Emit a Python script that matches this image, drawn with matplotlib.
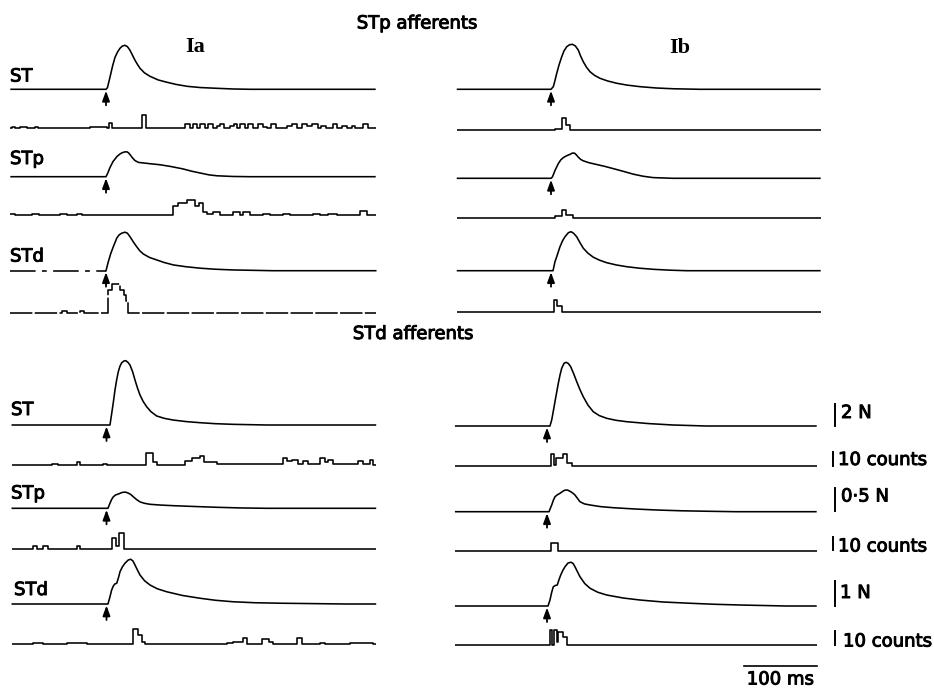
import matplotlib
matplotlib.use("Agg")
import matplotlib.pyplot as plt
import matplotlib.patheffects as pe

# ---------------- data ----------------
# twitch force traces: (time after stimulus in ms, force in N)
stp_ia_st_force = [(0, 0), (2, 0.15), (5.5, 1.1), (9, 2.1), (12.4, 2.9), (16, 3.4), (19.3, 3.73),
                   (22.5, 3.93), (26.2, 4.0), (29.5, 3.88), (33.1, 3.55), (36.5, 3.1), (40, 2.64),
                   (43.5, 2.25), (46.9, 1.91), (53, 1.5), (60.7, 1.18), (72, 0.85), (84, 0.64),
                   (97, 0.44), (112, 0.27), (130, 0.16), (153, 0.09), (175, 0.03), (199, 0)]
stp_ia_stp_force = [(0, 0), (2.5, 0.08), (5.5, 0.2), (9.7, 0.33), (15.2, 0.44), (19, 0.49), (22.1, 0.52),
                    (26, 0.54), (29, 0.54), (31, 0.52), (33.1, 0.48), (36.5, 0.41), (40, 0.35), (45, 0.31),
                    (51, 0.3), (62, 0.28), (74.5, 0.26), (90, 0.22), (106, 0.17), (118, 0.12), (130, 0.08),
                    (142, 0.04), (153, 0.02), (175, 0.005), (199, 0)]
stp_ia_std_force = [(0, 0), (3.2, 0.36), (6.5, 0.68), (10.1, 0.96), (14.8, 1.3), (18, 1.43), (21.7, 1.5),
                    (26.2, 1.54), (29.5, 1.5), (33.1, 1.36), (37.5, 1.16), (42.3, 0.96), (46.5, 0.8),
                    (51.4, 0.67), (60, 0.53), (70, 0.43), (80, 0.33), (93, 0.23), (110, 0.16), (130, 0.1),
                    (150, 0.06), (175, 0.03), (230, 0)]
stp_ib_st_force = [(0, 0), (3.2, 0.24), (5.5, 0.8), (7.9, 1.45), (11, 2.2), (14.8, 2.96), (18, 3.5),
                   (21.7, 3.87), (25.5, 4.05), (29.4, 4.09), (33.5, 3.95), (37.6, 3.57), (41, 3.0),
                   (44.5, 2.51), (49, 2.0), (53.8, 1.6), (60, 1.27), (67.6, 1.0), (78, 0.76), (90.6, 0.55),
                   (105, 0.38), (122.7, 0.24), (145, 0.12), (168, 0.05), (205, 0)]
stp_ib_stp_force = [(0, 0), (2, 0.03), (5.5, 0.17), (10.1, 0.32), (13.5, 0.4), (17, 0.45), (21.5, 0.49),
                    (26.2, 0.52), (29, 0.545), (31, 0.55), (33.1, 0.54), (35.5, 0.5), (37.6, 0.46),
                    (41, 0.41), (44.5, 0.38), (52, 0.34), (63, 0.3), (74, 0.26), (86, 0.21), (100, 0.15),
                    (113.5, 0.09), (127, 0.045), (141, 0.015), (168, 0)]
stp_ib_std_force = [(2.8, 0), (5.5, 0.36), (7.9, 0.56), (12.4, 0.96), (16, 1.2), (19.3, 1.36), (24, 1.52),
                    (27.6, 1.56), (31, 1.5), (35.4, 1.36), (40, 1.12), (44.5, 0.9), (51, 0.7), (58.3, 0.54),
                    (67, 0.42), (76.8, 0.32), (90, 0.23), (104.4, 0.16), (122, 0.1), (141, 0.056),
                    (165, 0.02), (187, 0)]
std_ia_st_force = [(4.8, 0), (7.2, 1.06), (9.5, 2.1), (11.7, 3.18), (14, 4.1), (16.3, 4.85), (18.6, 5.35),
                   (21, 5.66), (24, 5.82), (26.5, 5.85), (29.5, 5.7), (32.4, 5.45), (36, 4.85), (39.3, 4.09),
                   (42.8, 3.35), (46.2, 2.73), (50.5, 2.15), (55.4, 1.66), (61.5, 1.2), (69.2, 0.82),
                   (80, 0.6), (92.1, 0.45), (110, 0.31), (129, 0.21), (150, 0.12), (175, 0.06), (221, 0)]
std_ia_stp_force = [(2, 0), (4.8, 0.11), (7, 0.19), (9.4, 0.25), (12.5, 0.29), (16.3, 0.31), (20, 0.335),
                    (23.2, 0.35), (26.5, 0.35), (30.1, 0.33), (33.5, 0.3), (37, 0.25), (41.5, 0.19),
                    (46.2, 0.14), (52, 0.11), (60, 0.087), (75, 0.07), (92.1, 0.057), (120, 0.04),
                    (152, 0.022), (185, 0.008), (221, 0)]
std_ia_std_force = [(2, 0), (4.8, 0.29), (7, 0.55), (9.4, 0.72), (11.5, 0.8), (14.1, 0.83), (16.5, 1.05),
                    (18.6, 1.29), (22, 1.49), (25.5, 1.63), (30, 1.76), (33.4, 1.79), (36.5, 1.72),
                    (39.3, 1.56), (42.8, 1.35), (46.2, 1.16), (52.5, 0.93), (60, 0.76), (70, 0.61),
                    (83, 0.49), (105, 0.34), (129, 0.23), (150, 0.15), (174.4, 0.09), (205, 0.05),
                    (243, 0.03), (330, 0)]
std_ib_st_force = [(4.1, 0), (6.5, 0.55), (8.7, 1.35), (11, 2.21), (13.3, 3.05), (15.6, 3.88), (18, 4.65),
                   (20.3, 5.25), (23.5, 5.7), (26.2, 5.79), (29.5, 5.68), (32.7, 5.39), (36.8, 4.75),
                   (41, 4.03), (45.5, 3.3), (50, 2.66), (56.5, 1.9), (63.8, 1.3), (72, 0.95), (82.3, 0.7),
                   (95, 0.52), (110, 0.39), (140, 0.22), (174, 0.09), (220, 0)]
std_ib_stp_force = [(2.8, 0), (4.5, 0.07), (6.5, 0.146), (8.8, 0.25), (11, 0.326), (14.5, 0.37),
                    (17.9, 0.4), (21.5, 0.44), (24.8, 0.47), (28.5, 0.47), (32.7, 0.435), (35.5, 0.405),
                    (38.6, 0.363), (42, 0.29), (45.5, 0.217), (51.5, 0.17), (59.3, 0.146), (74, 0.11),
                    (91.4, 0.087), (120, 0.06), (151, 0.037), (185, 0.02), (220, 0.01), (260, 0)]
std_ib_std_force = [(1.4, 0), (4.1, 0.24), (6.5, 0.55), (8.7, 0.77), (11.5, 0.82), (14.2, 0.84),
                    (16.5, 1.05), (18.9, 1.24), (21.8, 1.42), (24.8, 1.57), (29, 1.72), (33.1, 1.75),
                    (36, 1.7), (38.6, 1.57), (42, 1.37), (45.5, 1.17), (52, 0.9), (59.3, 0.71), (70, 0.55),
                    (82.3, 0.44), (105, 0.32), (128, 0.24), (160, 0.16), (197, 0.11), (230, 0.07),
                    (266, 0.04), (330, 0)]

# afferent discharge histograms: (bin start ms, bin end ms, counts)
stp_ia_st_counts = [(-130, -126, 1), (-119, -109, 1), (-98, -94, 1), (-22, 1.4, 1), (3.7, 8.7, 4),
                    (49.2, 54.7, 10), (109, 116, 3), (120, 125, 3), (130, 136, 3), (141, 148, 3),
                    (153, 157, 2), (157, 163, 3), (171, 176, 2), (176, 181, 3), (185, 192, 3),
                    (196, 203, 3), (210, 217, 3), (217, 222, 1), (228, 235, 3), (249, 256, 2),
                    (256, 263, 3), (270, 277, 3), (277, 284, 2), (284, 293, 3), (297, 304, 2),
                    (313, 319, 3), (325, 332, 2), (339, 343, 2), (355, 362, 3)]
stp_ia_stp_counts = [(-132, -125, 1), (-102, -93, 1), (-63, -54, 1), (-40, -33, 1), (92.8, 99.7, 7),
                     (99.7, 111.2, 9), (111.2, 122.7, 11), (122.7, 128.7, 7), (128.7, 134.2, 9),
                     (134.2, 140, 2), (140, 148, 1), (148, 157, 2), (175.6, 184.8, 2), (189.4, 198.6, 2),
                     (217, 226, 1), (244.5, 253.7, 1), (286, 295, 1), (306.6, 318, 1), (350.3, 359.5, 3)]
stp_ia_std_counts = [(-61, -54, 1), (-36, -31, 1), (3.2, 7.8, 17), (7.8, 19.3, 21), (19.3, 24.8, 17),
                     (24.8, 27.6, 13), (27.6, 30.8, 9)]
stp_ib_st_counts = [(5.5, 14.7, 1), (14.7, 20.7, 9), (20.7, 26.2, 4)]
stp_ib_stp_counts = [(5.5, 14.7, 1), (14.7, 20.7, 6), (20.7, 29.9, 2)]
stp_ib_std_counts = [(4.1, 8.7, 9), (8.7, 14.7, 4)]
std_ia_st_counts = [(-75.6, -66.5, 1), (-41.2, -36.6, 2), (-4.4, 0.2, 1), (54, 64.6, 9), (64.6, 69.2, 2),
                    (108.2, 117.4, 3), (117.4, 128.9, 5), (128.9, 134.4, 7), (134.4, 151.9, 2),
                    (151.9, 243.8, 1), (243.8, 249.4, 5), (249.4, 255.3, 3), (255.3, 264.5, 4),
                    (264.5, 271.4, 1), (271.4, 278.3, 3), (278.3, 294.4, 1), (294.4, 301.3, 5),
                    (301.3, 305.9, 2), (305.9, 312.8, 4), (312.8, 347.3, 1), (347.3, 354.2, 3),
                    (354.2, 363.4, 1), (363.4, 368, 4)]
std_ia_stp_counts = [(-100.9, -96.3, 2), (-87.1, -80.2, 2), (-41.2, -36.6, 2), (7.9, 13.4, 8),
                     (13.4, 17.1, 2), (17.1, 23.5, 12)]
std_ia_std_counts = [(-100.9, -87.1, 1), (-55, -27.4, 1), (37, 43.9, 11), (43.9, 48.5, 7), (48.5, 53.1, 2),
                     (165.7, 174.9, 1), (174.9, 188.7, 2), (188.7, 194.2, 5), (214, 224.5, 4),
                     (224.5, 230, 2), (262.2, 269.1, 5), (294.4, 301.3, 1), (336, 368, 1)]
std_ib_st_counts = [(5.5, 9.6, 9), (9.6, 12, 1), (12, 21.6, 6), (21.6, 27.1, 9), (27.1, 34, 2)]
std_ib_stp_counts = [(5.5, 15.6, 6)]
std_ib_std_counts = [(4.1, 7.3, 11), (7.3, 9.6, 0), (9.6, 13.3, 11), (13.3, 15, 2), (15, 21.6, 10),
                     (21.6, 28, 6)]

muscles = ["ST", "STp", "STd"]
afferent_groups = ["STp afferents", "STd afferents"]
columns = ["Ia", "Ib"]
scale_labels = ["2 N", "10 counts", "0·5 N", "10 counts", "1 N", "10 counts"]
scale_values = [2, 10, 0.5, 10, 1, 10]
time_bar_ms = 100

# ---------------- layout (pixels) ----------------
W, H = 934, 689
PX_PER_MS = 0.725
T0, T1 = -132, 372
GAIN = {"ST": 11.0, "STp": 46.0, "STd": 25.0, "counts": 1.35}   # px per unit

panels = {
    ("STp", "Ia"): dict(stim=106.0, t0=-132, base=[89.3, 128.3, 176.7, 215.0, 270.7, 312.7]),
    ("STp", "Ib"): dict(stim=551.0, t0=-130, base=[89.3, 130.0, 178.3, 217.7, 270.7, 311.7]),
    ("STd", "Ia"): dict(stim=106.5, t0=-131, base=[425.0, 465.0, 508.3, 549.0, 604.0, 644.3]),
    ("STd", "Ib"): dict(stim=547.0, t0=-127, base=[426.0, 466.0, 511.7, 550.7, 606.0, 645.0]),
}
traces = {
    ("STp", "Ia"): [stp_ia_st_force, stp_ia_st_counts, stp_ia_stp_force, stp_ia_stp_counts,
                    stp_ia_std_force, stp_ia_std_counts],
    ("STp", "Ib"): [stp_ib_st_force, stp_ib_st_counts, stp_ib_stp_force, stp_ib_stp_counts,
                    stp_ib_std_force, stp_ib_std_counts],
    ("STd", "Ia"): [std_ia_st_force, std_ia_st_counts, std_ia_stp_force, std_ia_stp_counts,
                    std_ia_std_force, std_ia_std_counts],
    ("STd", "Ib"): [std_ib_st_force, std_ib_st_counts, std_ib_stp_force, std_ib_stp_counts,
                    std_ib_std_force, std_ib_std_counts],
}

LW = 1.15
fig = plt.figure(figsize=(W / 100, H / 100), dpi=100)
fig.patch.set_facecolor("white")

ov = fig.add_axes([0, 0, 1, 1])
ov.set_xlim(0, W)
ov.set_ylim(H, 0)
ov.axis("off")

FONT = dict(family="DejaVu Sans", size=13, color="black",
            path_effects=[pe.withStroke(linewidth=0.7, foreground="black")])
SERIF = dict(family="Liberation Serif", size=16, weight="bold", color="black")


def force_xy(points, t_start):
    xs = [t_start] + [p[0] for p in points] + [T1]
    ys = [0] + [p[1] for p in points] + [0]
    return xs, ys


def hist_xy(segs, t_start):
    edges = sorted({t_start, T1, *[max(s[0], t_start) for s in segs], *[s[1] for s in segs]})
    xs, ys = [], []
    for a, b in zip(edges[:-1], edges[1:]):
        lvl = 0
        for s0, s1, n in segs:
            if s0 <= a + 1e-9 and b <= s1 + 1e-9:
                lvl = n
        xs += [a, b]
        ys += [lvl, lvl]
    return xs, ys


for key, lay in panels.items():
    stim = lay["stim"]
    x0 = stim + T0 * PX_PER_MS
    x1 = stim + T1 * PX_PER_MS
    ax = fig.add_axes([x0 / W, 0, (x1 - x0) / W, 1])
    ax.set_xlim(T0, T1)
    ax.set_ylim(H, 0)
    ax.axis("off")
    ax.patch.set_visible(False)
    for i, data in enumerate(traces[key]):
        base = lay["base"][i]
        if i % 2 == 0:
            gain = GAIN[muscles[i // 2]]
            xs, ys = force_xy(data, lay["t0"])
        else:
            gain = GAIN["counts"]
            xs, ys = hist_xy(data, lay["t0"])
        yy = [base - gain * v for v in ys]
        ls = "-"
        if key == ("STp", "Ia") and i == 5:
            ls = (0, (14, 1.5))
        if key == ("STp", "Ia") and i == 4:
            pre = [k for k, x in enumerate(xs) if x <= 0]
            ax.plot([xs[k] for k in pre], [yy[k] for k in pre], color="black", lw=LW,
                    ls=(0, (16, 4, 3, 4)), clip_on=False, solid_capstyle="butt")
            post = [k for k, x in enumerate(xs) if x >= 0]
            ax.plot([xs[k] for k in post], [yy[k] for k in post], color="black", lw=LW,
                    clip_on=False, solid_joinstyle="round")
        else:
            ax.plot(xs, yy, color="black", lw=LW, ls=ls, clip_on=False,
                    solid_joinstyle="round", solid_capstyle="butt")
        if i % 2 == 0:
            ax.annotate("", xy=(0, base + 1.5), xytext=(0, base + 16),
                        arrowprops=dict(arrowstyle="-|>,head_length=0.6,head_width=0.22",
                                        lw=1.3, color="black", shrinkA=0, shrinkB=0),
                        annotation_clip=False)
    if key == ("STd", "Ib"):
        ax.plot([T1 - time_bar_ms, T1], [665.7, 665.7], color="black", lw=1.2, clip_on=False)

# left-hand muscle labels
label_pos = [(10, 81.5), (10, 164), (10, 261.5), (11, 415), (11, 498.5), (14, 595)]
for j, (x, y) in enumerate(label_pos):
    ov.text(x, y, muscles[j % 3], ha="left", va="baseline", **FONT)

# group titles
ov.text(417, 28.5, afferent_groups[0], ha="center", va="baseline", **FONT)
ov.text(413, 339, afferent_groups[1], ha="center", va="baseline", **FONT)
ov.text(195, 52, columns[0], ha="center", va="baseline", **SERIF)
ov.text(680, 53, columns[1], ha="center", va="baseline", **SERIF)

# calibration bars (right)
right_base = panels[("STd", "Ib")]["base"]
bar_x = [835, 833, 835, 833, 835, 835]
txt_x = [841, 838, 841, 838, 840, 843]
txt_y = [418, 465, 501.5, 551.5, 598, 646.5]
for i in range(6):
    gain = GAIN[muscles[i // 2]] if i % 2 == 0 else GAIN["counts"]
    b = right_base[i] - 0.5
    ov.plot([bar_x[i], bar_x[i]], [b, b - scale_values[i] * gain], color="black", lw=1.4)
    ov.text(txt_x[i], txt_y[i], scale_labels[i], ha="left", va="baseline", **FONT)

ov.text(780, 684.5, f"{time_bar_ms} ms", ha="center", va="baseline", **FONT)

fig.savefig("out.png", dpi=100, facecolor="white")
